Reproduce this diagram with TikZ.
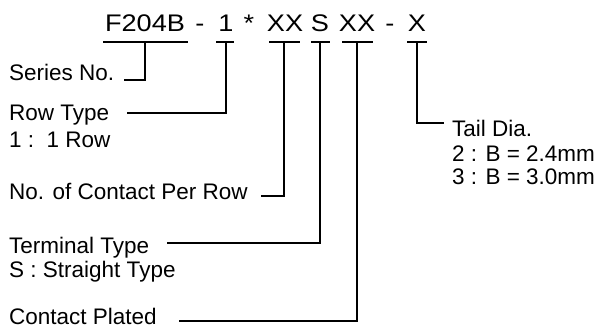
\documentclass[tikz,border=0pt]{standalone}
\usepackage{fontspec}
\setmainfont{Liberation Sans}
\newcommand{\hdrfont}{\fontsize{24}{28}\selectfont}
\newcommand{\lblfont}{\fontsize{22.5}{27}\selectfont}
\newcommand{\hs}[1]{\scalebox{1.13}[1]{#1}}
\begin{document}
\begin{tikzpicture}[x=1pt,y=1pt,
  hdr/.style={inner sep=0pt, anchor=base, font=\hdrfont},
  lbl/.style={inner sep=0pt, anchor=base west, font=\lblfont},
  ln/.style={line width=1.1pt, line cap=rect}]
\useasboundingbox (0,0) rectangle (598,-329);
% header pieces
\node[hdr] (f204b) at (145,-32) {\hs{F204B}};
\node[hdr] (d1)    at (200,-32) {\hs{-}};
\node[hdr] (one)   at (226,-32) {\hs{1}};
\node[hdr] (star)  at (249,-32) {\hs{*}};
\node[hdr] (xx1)   at (285,-32) {\hs{XX}};
\node[hdr] (s)     at (320,-32) {\hs{S}};
\node[hdr] (xx2)   at (357,-32) {\hs{XX}};
\node[hdr] (d2)    at (390,-32) {\hs{-}};
\node[hdr] (x)     at (417,-32) {\hs{X}};
% labels
\node[lbl] (series) at (9,-81)  {Series No.};
\node[lbl] (row)    at (9,-121) {Row Type};
\node[lbl] (row1)   at (9,-148) {1 :\ \ 1 Row};
\node[lbl] (cpr)    at (9,-200) {No. of Contact Per Row};
\node[lbl] (term)   at (9,-253) {Terminal Type};
\node[lbl] (term1)  at (9,-277) {S : Straight Type};
\node[lbl] (plated) at (9,-324.5) {Contact Plated};
\node[lbl] (tail)   at (452,-137) {Tail Dia.};
\node[lbl] (tail2)  at (452,-161) {2 : B = 2.4mm};
\node[lbl] (tail3)  at (452,-185) {3 : B = 3.0mm};
% bars under header
\coordinate (b1l) at (104,-42); \coordinate (b1r) at (187,-42); \coordinate (b1) at (145,-42);
\coordinate (b2l) at (217,-42); \coordinate (b2r) at (233,-42); \coordinate (b2) at (226,-42);
\coordinate (b3l) at (270,-42); \coordinate (b3r) at (299,-42); \coordinate (b3) at (284,-42);
\coordinate (b4l) at (312,-42); \coordinate (b4r) at (329,-42); \coordinate (b4) at (320,-42);
\coordinate (b5l) at (343,-42); \coordinate (b5r) at (372,-42); \coordinate (b5) at (357,-42);
\coordinate (b6l) at (408,-42); \coordinate (b6r) at (426,-42); \coordinate (b6) at (417,-42);
\foreach \i in {1,...,6} {\draw[ln] (b\i l) -- (b\i r);}
% line ends beside labels
\coordinate (e1) at (125,-80);
\coordinate (e2) at (128,-113);
\coordinate (e3) at (262,-196);
\coordinate (e4) at (168,-243);
\coordinate (e5) at (180,-321);
\coordinate (e6) at (443,-123);
\draw[ln] (b1) |- (e1);
\draw[ln] (b2) |- (e2);
\draw[ln] (b3) |- (e3);
\draw[ln] (b4) |- (e4);
\draw[ln] (b5) |- (e5);
\draw[ln] (b6) |- (e6);
\end{tikzpicture}
\end{document}
